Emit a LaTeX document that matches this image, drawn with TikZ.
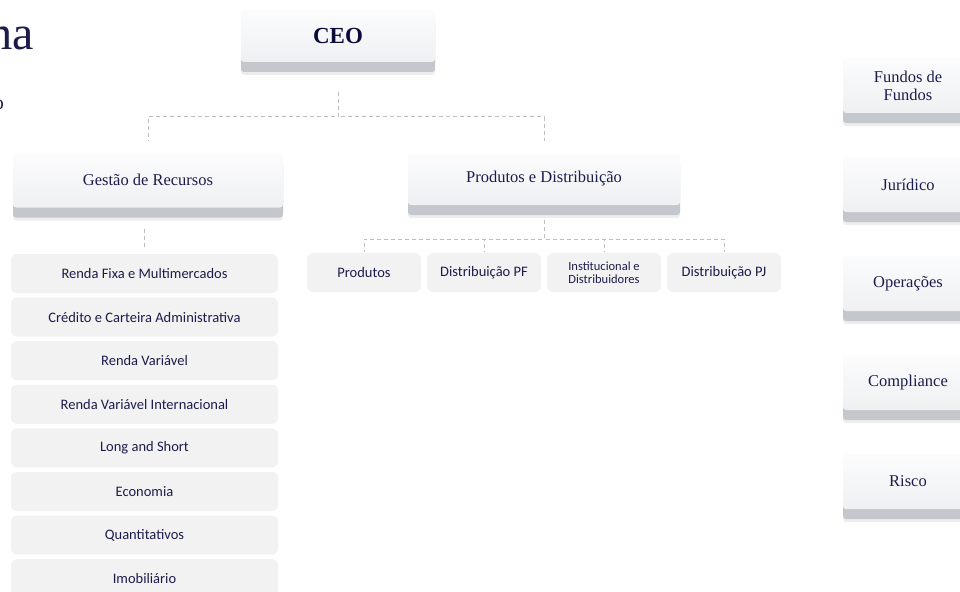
\documentclass[tikz,border=0pt]{standalone}
\usepackage{fontspec}
\setmainfont{Liberation Serif}
\newfontfamily\unitfont{Carlito}
\usepackage{tikz}
\usetikzlibrary{positioning, shadows}
\definecolor{InkNavy}{HTML}{1C1C4C}
\definecolor{DeepNavy}{HTML}{0B0B3A}
\definecolor{FaceTop}{HTML}{FCFCFD}
\definecolor{FaceBottom}{HTML}{EEF0F2}
\definecolor{BandGray}{HTML}{C4C7CB}
\definecolor{UnitGray}{HTML}{F2F2F2}
\definecolor{LinkGray}{HTML}{BDBDBD}
\tikzset{
  cardbox/.style={rectangle, rounded corners=3pt, top color=FaceTop, bottom color=FaceBottom, draw=none, inner sep=0pt, outer sep=0pt, minimum height=55pt, text=InkNavy, font=\fontsize{16.5}{18}\selectfont, align=center, drop shadow={shadow xshift=0pt, shadow yshift=-13pt, fill=black, opacity=0.07}, drop shadow={shadow xshift=0pt, shadow yshift=-10pt, fill=BandGray, opacity=1}},
  unitbox/.style={rectangle, rounded corners=6pt, fill=UnitGray, draw=none, inner sep=0pt, outer sep=0pt, minimum width=267pt, minimum height=39pt, text=InkNavy, font=\unitfont\fontsize{14.5}{16}\selectfont, align=center},
  teambox/.style={unitbox, minimum width=114pt},
  sidebox/.style={cardbox, minimum width=130pt},
  link/.style={draw=LinkGray, line width=1pt, dash pattern=on 4pt off 3pt}
}
\begin{document}
\begin{tikzpicture}[x=1pt, y=-1pt]
  \useasboundingbox (0,0) rectangle (960,591);
  \clip (0,0) rectangle (960,591);
  \fill[white] (0,0) rectangle (960,591);

  % cut-off title
  \node[anchor=base east, inner sep=0pt, text=InkNavy, font=\fontsize{48}{50}\selectfont] (title) at (34,50) {ma};
  \node[anchor=base east, inner sep=0pt, text=InkNavy, font=\fontsize{20}{22}\selectfont] (subtitle) at (4,110) {o};

  \node[cardbox, minimum width=194pt, minimum height=52pt, text=DeepNavy, font=\bfseries\fontsize{23}{25}\selectfont] (ceo) at (338,36) {CEO};
  \node[cardbox, minimum width=270pt] (gestao) at (148,180) {Gestão de Recursos};
  \node[cardbox, minimum width=272pt, minimum height=52pt] (prodist) at (544,179) {Produtos e Distribuição};

  \draw[link] ([yshift=-30pt]ceo.south) -- ++(0,25) -| ([yshift=12pt]gestao.north);
  \draw[link] ([yshift=-30pt]ceo.south) -- ++(0,25) -| ([yshift=12pt]prodist.north);

  % asset management desks
  \node[unitbox] (rf) at (144.5,273.5) {Renda Fixa e Multimercados};
  \node[unitbox, below=4.6pt of rf] (cca) {Crédito e Carteira Administrativa};
  \node[unitbox, below=4.6pt of cca] (rv) {Renda Variável};
  \node[unitbox, below=4.6pt of rv] (rvi) {Renda Variável Internacional};
  \node[unitbox, below=4.6pt of rvi] (ls) {Long and Short};
  \node[unitbox, below=4.6pt of ls] (eco) {Economia};
  \node[unitbox, below=4.6pt of eco] (quant) {Quantitativos};
  \node[unitbox, below=4.6pt of quant] (imob) {Imobiliário};
  \draw[link] ([yshift=7pt]rf.north) -- ++(0,-19);

  % products and distribution teams
  \node[teambox] (prod) at (364,272.5) {Produtos};
  \node[teambox, right=6pt of prod] (dpf) {Distribuição PF};
  \node[teambox, right=6pt of dpf, font=\unitfont\fontsize{12.5}{13.5}\selectfont] (inst) {Institucional e\\Distribuidores};
  \node[teambox, right=6pt of inst] (dpj) {Distribuição PJ};
  \draw[link] ([yshift=-15pt]prodist.south) -- ++(0,19) -| ([yshift=1pt]prod.north);
  \draw[link] ([yshift=-15pt]prodist.south) -- ++(0,19) -| ([yshift=1pt]dpf.north);
  \draw[link] ([yshift=-15pt]prodist.south) -- ++(0,19) -| ([yshift=1pt]inst.north);
  \draw[link] ([yshift=-15pt]prodist.south) -- ++(0,19) -| ([yshift=1pt]dpj.north);

  % support areas
  \node[sidebox] (fof) at (908,85.5) {Fundos de\\Fundos};
  \node[sidebox, below=44pt of fof] (jur) {Jurídico};
  \node[sidebox, below=44pt of jur] (ops) {Operações};
  \node[sidebox, below=44pt of ops] (comp) {Compliance};
  \node[sidebox, below=44pt of comp] (risco) {Risco};
\end{tikzpicture}
\end{document}
